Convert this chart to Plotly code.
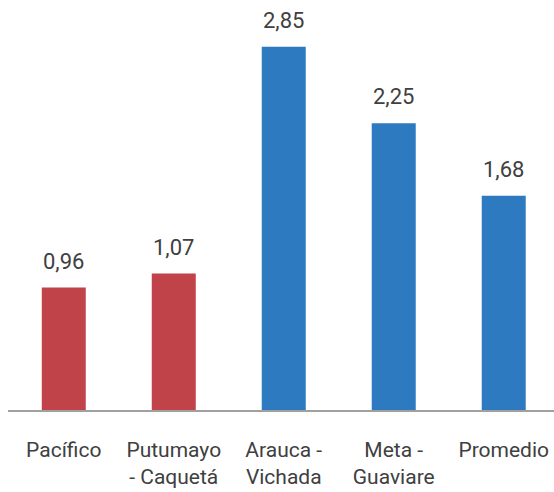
import plotly.graph_objects as go

# data
regions = ["Pacífico", "Putumayo<br>- Caquetá", "Arauca -<br>Vichada", "Meta -<br>Guaviare", "Promedio"]
values = [0.96, 1.07, 2.85, 2.25, 1.68]
colors = ["#C0434A", "#C0434A", "#2E7AC1", "#2E7AC1", "#2E7AC1"]

labels = [f"{v:.2f}".replace(".", ",") for v in values]

fig = go.Figure(
    go.Bar(
        x=regions,
        y=values,
        marker=dict(color=colors, line=dict(width=0)),
        hoverinfo="skip",
    )
)

for r, v, t in zip(regions, values, labels):
    fig.add_annotation(
        x=r, y=v, text=t, showarrow=False,
        yanchor="bottom", yshift=12,
        font=dict(size=22, color="#404040"),
    )

fig.update_layout(
    width=554,
    height=492,
    margin=dict(l=8, r=0, t=2, b=82),
    paper_bgcolor="white",
    plot_bgcolor="white",
    bargap=0.6,
    showlegend=False,
    font=dict(family="Roboto", size=21, color="#404040"),
    xaxis=dict(
        range=[-0.507, 4.457],
        automargin=False,
        showline=True,
        linecolor="#A0A0A0",
        linewidth=1.5,
        ticks="",
        showgrid=False,
        ticklabelstandoff=20,
        tickfont=dict(size=21, color="#404040"),
    ),
    yaxis=dict(
        range=[0, 3.2],
        visible=False,
        automargin=False,
        showgrid=False,
        zeroline=False,
    ),
)

# drop the default page margin so the figure sits at the window corner
fig.write_html(
    "out.html",
    config={"displayModeBar": False},
    post_script="document.body.style.margin='0';",
)
